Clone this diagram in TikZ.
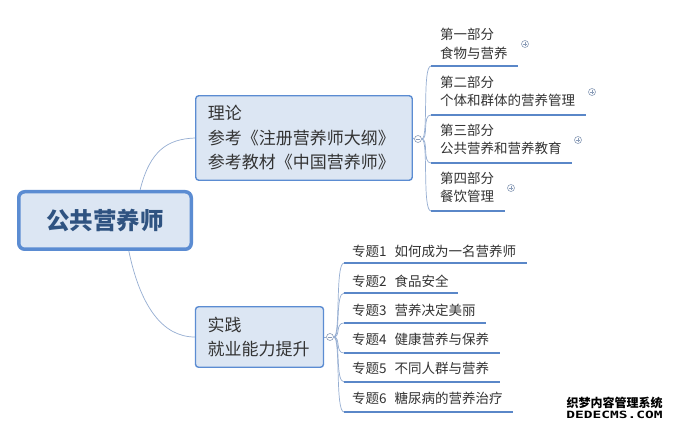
\documentclass[tikz,border=0pt]{standalone}
\usepackage{fontspec}
\setmainfont{Noto Sans CJK SC}
\newfontfamily\wmmono{DejaVu Sans Mono}
\usetikzlibrary{calc}
\definecolor{boxblue}{HTML}{5B8CD2}
\definecolor{boxfill}{HTML}{DCE6F3}
\definecolor{roottext}{HTML}{2F5381}
\definecolor{txtgray}{HTML}{333333}
\definecolor{connblue}{HTML}{96AED2}
\definecolor{ulblue}{HTML}{5A87C8}
\definecolor{togglecol}{HTML}{8A9CB8}
\tikzset{
  rootbox/.style={draw=boxblue, line width=3.5pt, fill=boxfill, rounded corners=6pt,
    minimum width=172.5pt, minimum height=57.5pt, inner sep=0pt, text=roottext,
    font=\fontsize{23.5}{28}\selectfont\bfseries},
  subbox/.style={draw=boxblue, line width=1.4pt, fill=boxfill, rounded corners=3pt,
    inner xsep=12pt, inner ysep=4pt, align=left, text=txtgray,
    font=\fontsize{17}{24.5}\selectfont},
  childtxt/.style={align=left, inner sep=0pt, text=txtgray, anchor=west,
    font=\fontsize{13.5}{18.5}\selectfont},
  conn/.style={draw=connblue, line width=0.7pt},
  uline/.style={draw=ulblue, line width=1.8pt},
  toggle/.style={circle, draw=togglecol, fill=white, line width=0.6pt,
    minimum size=7pt, inner sep=0pt},
  sign/.style={draw=togglecol, line width=0.6pt}
}
\newcommand\plusmark[2]{%
  \node[toggle] (#1) at #2 {};
  \draw[sign] ($(#1.center)+(-2,0)$) -- ($(#1.center)+(2,0)$);
  \draw[sign] ($(#1.center)+(0,-2)$) -- ($(#1.center)+(0,2)$);
}
\begin{document}
\begin{tikzpicture}[x=1pt,y=-1pt]
\useasboundingbox (0,0) rectangle (675,430);
\fill[white] (0,0) rectangle (675,430);

% root
\node[rootbox] (root) at (105,220.5) {公共营养师};

% main branches
\node[subbox, text width=192.5pt, minimum width=216.5pt, minimum height=84.5pt] (theory) at (304,138)
  {理论\\参考《注册营养师大纲》\\参考教材《中国营养师》};
\node[subbox, text width=104pt, minimum width=127.5pt, minimum height=60.5pt] (practice) at (259.5,337)
  {实践\\就业能力提升};

\draw[conn] (root.41) .. controls (150,150) and (168,139) .. (theory.west);
\draw[conn] (root.-52) .. controls (140,305) and (162,337) .. (practice.west);

% collapse toggles
\node[toggle] (tc) at (418,139) {};
\draw[sign] ($(tc.center)+(-2,0)$) -- ($(tc.center)+(2,0)$);
\node[toggle] (pc) at (330,337) {};
\draw[sign] ($(pc.center)+(-2,0)$) -- ($(pc.center)+(2,0)$);
\draw[conn] (theory.east) -- (tc.west);
\draw[conn] (practice.east) -- (pc.west);

% theory children
\node[childtxt] (t1) at (440,44) {第一部分\\食物与营养};
\node[childtxt] (t2) at (440,91.5) {第二部分\\个体和群体的营养管理};
\node[childtxt] (t3) at (440,139.5) {第三部分\\公共营养和营养教育};
\node[childtxt] (t4) at (440,187.5) {第四部分\\餐饮管理};

\coordinate (t1a) at (431,66);  \coordinate (t1b) at (518,66);
\coordinate (t2a) at (431,115); \coordinate (t2b) at (586,115);
\coordinate (t3a) at (431,163); \coordinate (t3b) at (572,163);
\coordinate (t4a) at (431,211); \coordinate (t4b) at (505,211);

\foreach \c in {t1,t2,t3,t4}{
  \draw[conn] (tc.east) .. controls ($(tc.east)+(7,0)$) and ($(\c a)+(-9,0)$) .. (\c a);
  \draw[uline] (\c a) -- (\c b);
}
\plusmark{t1p}{(525,44)}
\plusmark{t2p}{(592,92)}
\plusmark{t3p}{(578,140)}
\plusmark{t4p}{(511,188)}

% practice children
\node[childtxt] (p1) at (352,251) {专题1\hspace{8pt}如何成为一名营养师};
\node[childtxt] (p2) at (352,281) {专题2\hspace{8pt}食品安全};
\node[childtxt] (p3) at (352,310) {专题3\hspace{8pt}营养决定美丽};
\node[childtxt] (p4) at (352,339) {专题4\hspace{8pt}健康营养与保养};
\node[childtxt] (p5) at (352,368) {专题5\hspace{8pt}不同人群与营养};
\node[childtxt] (p6) at (352,398) {专题6\hspace{8pt}糖尿病的营养治疗};

\coordinate (p1a) at (344,263); \coordinate (p1b) at (527,263);
\coordinate (p2a) at (344,293); \coordinate (p2b) at (458,293);
\coordinate (p3a) at (344,323); \coordinate (p3b) at (486,323);
\coordinate (p4a) at (344,353); \coordinate (p4b) at (500,353);
\coordinate (p5a) at (344,382); \coordinate (p5b) at (500,382);
\coordinate (p6a) at (344,412); \coordinate (p6b) at (513,412);

\foreach \c in {p1,p2,p3,p4,p5,p6}{
  \draw[conn] (pc.east) .. controls ($(pc.east)+(7,0)$) and ($(\c a)+(-9,0)$) .. (\c a);
  \draw[uline] (\c a) -- (\c b);
}

% watermark
\node[inner sep=0pt, font=\fontsize{12}{12}\selectfont\bfseries, text=black] (wm1) at (614.5,403) {织梦内容管理系统};
\node[inner sep=0pt, font=\wmmono\fontsize{10}{10}\selectfont\bfseries, text=black] (wm2) at (614.5,415) {\scalebox{1.45}[1]{DEDECMS.COM}};
\end{tikzpicture}
\end{document}
